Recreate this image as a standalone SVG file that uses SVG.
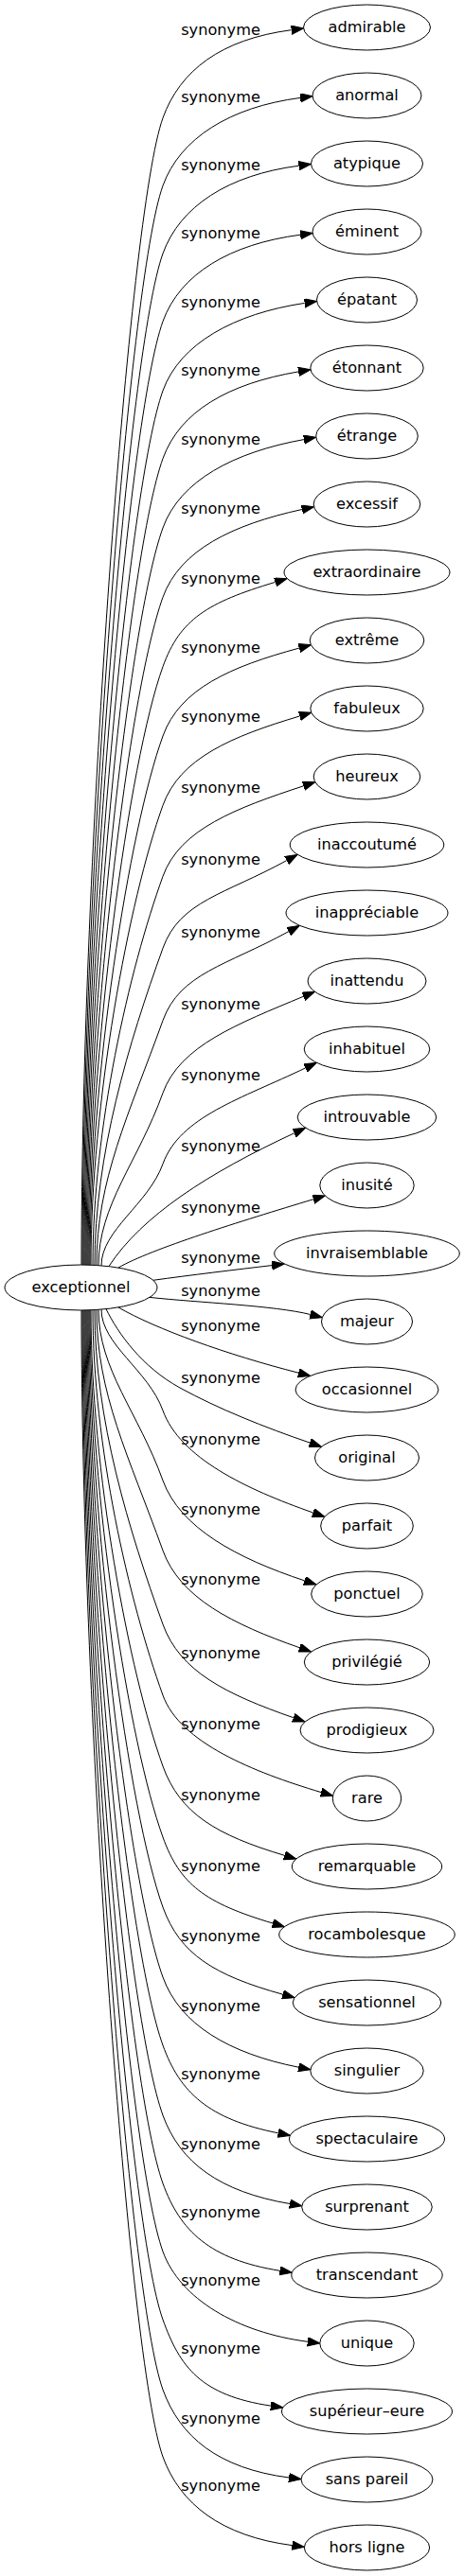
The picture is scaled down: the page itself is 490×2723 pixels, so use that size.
<svg xmlns="http://www.w3.org/2000/svg" width="490" height="2723" viewBox="0 0 490 2723">
<style>
.node ellipse{fill:#fff;stroke:#000;stroke-width:1}
.node text,.lbl{font-family:"DejaVu Sans",sans-serif;font-size:16.2px;text-anchor:middle;fill:#000}
.edge path{fill:none;stroke:#000;stroke-width:1;marker-end:url(#arr)}
</style>
<defs>
<marker id="arr" markerUnits="userSpaceOnUse" markerWidth="14" markerHeight="10" refX="0" refY="4.67" orient="auto">
<path d="M0,0 L13,4.67 L0,9.34 Z" fill="#000" stroke="#000" stroke-width="1"/>
</marker>
</defs>
<rect width="490" height="2723" fill="#fff"/>
<g id="edges" class="edge">
<path d="M86,1337 C86,912.7 136,224.7 172,124.7 C190,74.7 233.3,41.4 307.7,31.7"/>
<path d="M87,1337 C87,937.8 136,296.3 172,196.3 C190,146.3 242.7,113.1 317.1,103.4"/>
<path d="M88,1337 C88,962.9 136,368 172,268 C190,218 241.2,184.9 315.6,175.2"/>
<path d="M89,1337 C89,988 136,439.7 172,339.7 C190,289.7 242.8,257.9 317.2,248.2"/>
<path d="M90,1337 C90,1013.6 136,513 172,413 C190,363 247.5,331.5 321.7,320.4"/>
<path d="M91,1337 C91,1038.7 136,584.7 172,484.7 C190,434.7 241.3,405.5 315.2,392.9"/>
<path d="M92,1337 C92,1064.4 136,658 172,558 C190,508 247.1,477.9 320.9,464.6"/>
<path d="M93,1337 C93,1090 136,731.3 172,631.3 C190,581.3 245.6,554.6 318.9,538.5"/>
<path d="M94,1337 C94,1115.7 136,804.7 172,704.7 C190,654.7 218.8,636.9 290.6,615.4"/>
<path d="M95,1337 C95,1141.4 136,878 172,778 C190,728 243.5,704.7 315.9,685.1"/>
<path d="M96,1337 C96,1167 136,951.3 172,851.3 C190,801.3 244.6,778.5 316.4,757"/>
<path d="M98,1337.3 C98,1193.4 136,1026.3 172,926.3 C190,876.3 249.3,854.3 320.5,830.8"/>
<path d="M100,1337.4 C100,1220.1 136,1102.3 172,1002.3 C190,952.3 237,945.7 302.7,909.6"/>
<path d="M102,1337.5 C102,1246.9 136,1178.7 172,1078.7 C190,1028.7 239.2,1020.7 304.9,984.6"/>
<path d="M104,1337.6 C104,1273.8 145.8,1228.2 172,1155.3 C190,1105.3 251.2,1082.3 320.4,1053.3"/>
<path d="M107,1337.9 C107,1300.2 156.5,1273.3 172,1230.3 C190,1180.3 255,1161.4 322.6,1128.9"/>
<path d="M115,1338.5 C150,1285 220,1240 310.7,1197.8"/>
<path d="M125,1340 C160,1320 254,1291 330.9,1267.7"/>
<path d="M161.7,1353.3 C200,1348 250,1342 287.1,1337.6"/>
<path d="M158,1371.4 C210,1377 290,1380 327.7,1389.5"/>
<path d="M125,1382 C165,1405 240,1432 315.2,1451.2"/>
<path d="M112,1383.7 C125,1410 150,1445 190,1467 C230,1489 280,1509 327.2,1525.1"/>
<path d="M107,1384.1 C107,1421.5 156.6,1448.2 172,1491 C190,1541 259.8,1574.2 330.6,1599"/>
<path d="M104,1384.4 C104,1447.6 146,1492.8 172,1565 C190,1615 250.5,1647.4 321.7,1670.9"/>
<path d="M102,1384.5 C102,1473.6 136,1539 172,1639 C190,1689 245.5,1716.9 316.3,1741.7"/>
<path d="M100,1384.6 C100,1500.9 136,1617 172,1717 C190,1767 239,1790.9 309.8,1815.7"/>
<path d="M98,1384.7 C98,1527.3 136,1692 172,1792 C190,1842 267.3,1873.1 339.1,1894.6"/>
<path d="M96,1385 C96,1553.7 136,1767 172,1867 C190,1917 228.6,1939.8 300.4,1961.3"/>
<path d="M95,1385 C95,1580 136,1842 172,1942 C190,1992 216.2,2011.5 288,2033"/>
<path d="M94,1385 C94,1605.9 136,1916 172,2016 C190,2066 226.4,2088 298.6,2108.2"/>
<path d="M93,1385 C93,1631.8 136,1990 172,2090 C190,2140 241.7,2170.5 315.2,2185.2"/>
<path d="M92,1385 C92,1657 136,2062 172,2162 C190,2212 220.3,2240.1 293.8,2254.8"/>
<path d="M91,1385 C91,1682.9 136,2136 172,2236 C190,2286 232.1,2316.9 306,2329.5"/>
<path d="M90,1385 C90,1708 136,2208 172,2308 C190,2358 221.4,2388.4 295.5,2400.3"/>
<path d="M89,1385 C89,1733.3 136,2280 172,2380 C190,2430 250.5,2465.6 324.9,2475.3"/>
<path d="M88,1385 C88,1758.5 136,2352 172,2452 C190,2502 211.7,2532 285.9,2543.1"/>
<path d="M87,1385 C87,1784.4 136,2426 172,2526 C190,2576 230.7,2609.3 305.1,2619"/>
<path d="M86,1385 C86,1809.2 136,2497 172,2597 C190,2647 234,2680.9 308.4,2690.6"/>
<text class="lbl" x="233" y="36.7">synonyme</text>
<text class="lbl" x="233" y="108.3">synonyme</text>
<text class="lbl" x="233" y="180">synonyme</text>
<text class="lbl" x="233" y="251.7">synonyme</text>
<text class="lbl" x="233" y="325">synonyme</text>
<text class="lbl" x="233" y="396.7">synonyme</text>
<text class="lbl" x="233" y="470">synonyme</text>
<text class="lbl" x="233" y="543.3">synonyme</text>
<text class="lbl" x="233" y="616.7">synonyme</text>
<text class="lbl" x="233" y="690">synonyme</text>
<text class="lbl" x="233" y="763.3">synonyme</text>
<text class="lbl" x="233" y="838.3">synonyme</text>
<text class="lbl" x="233" y="914.3">synonyme</text>
<text class="lbl" x="233" y="990.7">synonyme</text>
<text class="lbl" x="233" y="1067.3">synonyme</text>
<text class="lbl" x="233" y="1142.3">synonyme</text>
<text class="lbl" x="233" y="1216.7">synonyme</text>
<text class="lbl" x="233" y="1281.7">synonyme</text>
<text class="lbl" x="233" y="1335">synonyme</text>
<text class="lbl" x="233" y="1370">synonyme</text>
<text class="lbl" x="233" y="1407">synonyme</text>
<text class="lbl" x="233" y="1462">synonyme</text>
<text class="lbl" x="233" y="1527">synonyme</text>
<text class="lbl" x="233" y="1601">synonyme</text>
<text class="lbl" x="233" y="1675">synonyme</text>
<text class="lbl" x="233" y="1753">synonyme</text>
<text class="lbl" x="233" y="1828">synonyme</text>
<text class="lbl" x="233" y="1903">synonyme</text>
<text class="lbl" x="233" y="1978">synonyme</text>
<text class="lbl" x="233" y="2052">synonyme</text>
<text class="lbl" x="233" y="2126">synonyme</text>
<text class="lbl" x="233" y="2198">synonyme</text>
<text class="lbl" x="233" y="2272">synonyme</text>
<text class="lbl" x="233" y="2344">synonyme</text>
<text class="lbl" x="233" y="2416">synonyme</text>
<text class="lbl" x="233" y="2488">synonyme</text>
<text class="lbl" x="233" y="2562">synonyme</text>
<text class="lbl" x="233" y="2633">synonyme</text>
</g>
<g id="exceptionnel" class="node"><ellipse cx="85.5" cy="1361" rx="80.5" ry="24"/><text x="85.5" y="1366">exceptionnel</text></g>
<g id="admirable" class="node"><ellipse cx="387.5" cy="29" rx="67" ry="24"/><text x="387.5" y="34">admirable</text></g>
<g id="anormal" class="node"><ellipse cx="387.5" cy="101" rx="57.5" ry="24"/><text x="387.5" y="106">anormal</text></g>
<g id="atypique" class="node"><ellipse cx="387.5" cy="173" rx="59" ry="24"/><text x="387.5" y="178">atypique</text></g>
<g id="eminent" class="node"><ellipse cx="387.5" cy="245" rx="57.5" ry="24"/><text x="387.5" y="250">éminent</text></g>
<g id="epatant" class="node"><ellipse cx="387.5" cy="317" rx="53" ry="24"/><text x="387.5" y="322">épatant</text></g>
<g id="etonnant" class="node"><ellipse cx="387.5" cy="389" rx="59.7" ry="24"/><text x="387.5" y="394">étonnant</text></g>
<g id="etrange" class="node"><ellipse cx="387.5" cy="461" rx="53.8" ry="24"/><text x="387.5" y="466">étrange</text></g>
<g id="excessif" class="node"><ellipse cx="387.5" cy="533" rx="56.3" ry="24"/><text x="387.5" y="538">excessif</text></g>
<g id="extraordinaire" class="node"><ellipse cx="387.5" cy="605" rx="87.5" ry="24"/><text x="387.5" y="610">extraordinaire</text></g>
<g id="extreme" class="node"><ellipse cx="387.5" cy="677" rx="60.3" ry="24"/><text x="387.5" y="682">extrême</text></g>
<g id="fabuleux" class="node"><ellipse cx="387.5" cy="749" rx="59.7" ry="24"/><text x="387.5" y="754">fabuleux</text></g>
<g id="heureux" class="node"><ellipse cx="387.5" cy="821" rx="56.3" ry="24"/><text x="387.5" y="826">heureux</text></g>
<g id="inaccoutume" class="node"><ellipse cx="387.5" cy="893" rx="81.3" ry="24"/><text x="387.5" y="898">inaccoutumé</text></g>
<g id="inappreciable" class="node"><ellipse cx="387.5" cy="965" rx="85.5" ry="24"/><text x="387.5" y="970">inappréciable</text></g>
<g id="inattendu" class="node"><ellipse cx="387.5" cy="1037" rx="62.5" ry="24"/><text x="387.5" y="1042">inattendu</text></g>
<g id="inhabituel" class="node"><ellipse cx="387.5" cy="1109" rx="66.3" ry="24"/><text x="387.5" y="1114">inhabituel</text></g>
<g id="introuvable" class="node"><ellipse cx="387.5" cy="1181" rx="73.3" ry="24"/><text x="387.5" y="1186">introuvable</text></g>
<g id="inusite" class="node"><ellipse cx="387.5" cy="1253" rx="49.7" ry="24"/><text x="387.5" y="1258">inusité</text></g>
<g id="invraisemblable" class="node"><ellipse cx="387.5" cy="1325" rx="97.8" ry="24"/><text x="387.5" y="1330">invraisemblable</text></g>
<g id="majeur" class="node"><ellipse cx="387.5" cy="1397" rx="48" ry="24"/><text x="387.5" y="1402">majeur</text></g>
<g id="occasionnel" class="node"><ellipse cx="387.5" cy="1469" rx="75.5" ry="24"/><text x="387.5" y="1474">occasionnel</text></g>
<g id="original" class="node"><ellipse cx="387.5" cy="1541" rx="55" ry="24"/><text x="387.5" y="1546">original</text></g>
<g id="parfait" class="node"><ellipse cx="387.5" cy="1613" rx="48.8" ry="24"/><text x="387.5" y="1618">parfait</text></g>
<g id="ponctuel" class="node"><ellipse cx="387.5" cy="1685" rx="58.8" ry="24"/><text x="387.5" y="1690">ponctuel</text></g>
<g id="privilegie" class="node"><ellipse cx="387.5" cy="1757" rx="66.2" ry="24"/><text x="387.5" y="1762">privilégié</text></g>
<g id="prodigieux" class="node"><ellipse cx="387.5" cy="1829" rx="70.5" ry="24"/><text x="387.5" y="1834">prodigieux</text></g>
<g id="rare" class="node"><ellipse cx="387.5" cy="1901" rx="36.2" ry="24"/><text x="387.5" y="1906">rare</text></g>
<g id="remarquable" class="node"><ellipse cx="387.5" cy="1973" rx="79.2" ry="24"/><text x="387.5" y="1978">remarquable</text></g>
<g id="rocambolesque" class="node"><ellipse cx="387.5" cy="2045" rx="92.8" ry="24"/><text x="387.5" y="2050">rocambolesque</text></g>
<g id="sensationnel" class="node"><ellipse cx="387.5" cy="2117" rx="78.3" ry="24"/><text x="387.5" y="2122">sensationnel</text></g>
<g id="singulier" class="node"><ellipse cx="387.5" cy="2189" rx="59.7" ry="24"/><text x="387.5" y="2194">singulier</text></g>
<g id="spectaculaire" class="node"><ellipse cx="387.5" cy="2261" rx="82" ry="24"/><text x="387.5" y="2266">spectaculaire</text></g>
<g id="surprenant" class="node"><ellipse cx="387.5" cy="2333" rx="68.8" ry="24"/><text x="387.5" y="2338">surprenant</text></g>
<g id="transcendant" class="node"><ellipse cx="387.5" cy="2405" rx="79.7" ry="24"/><text x="387.5" y="2410">transcendant</text></g>
<g id="unique" class="node"><ellipse cx="387.5" cy="2477" rx="49.7" ry="24"/><text x="387.5" y="2482">unique</text></g>
<g id="superieur-eure" class="node"><ellipse cx="387.5" cy="2549" rx="90" ry="24"/><text x="387.5" y="2554">supérieur–eure</text></g>
<g id="sans-pareil" class="node"><ellipse cx="387.5" cy="2621" rx="69.5" ry="24"/><text x="387.5" y="2626">sans pareil</text></g>
<g id="hors-ligne" class="node"><ellipse cx="387.5" cy="2693" rx="66.2" ry="24"/><text x="387.5" y="2698">hors ligne</text></g>
</svg>
